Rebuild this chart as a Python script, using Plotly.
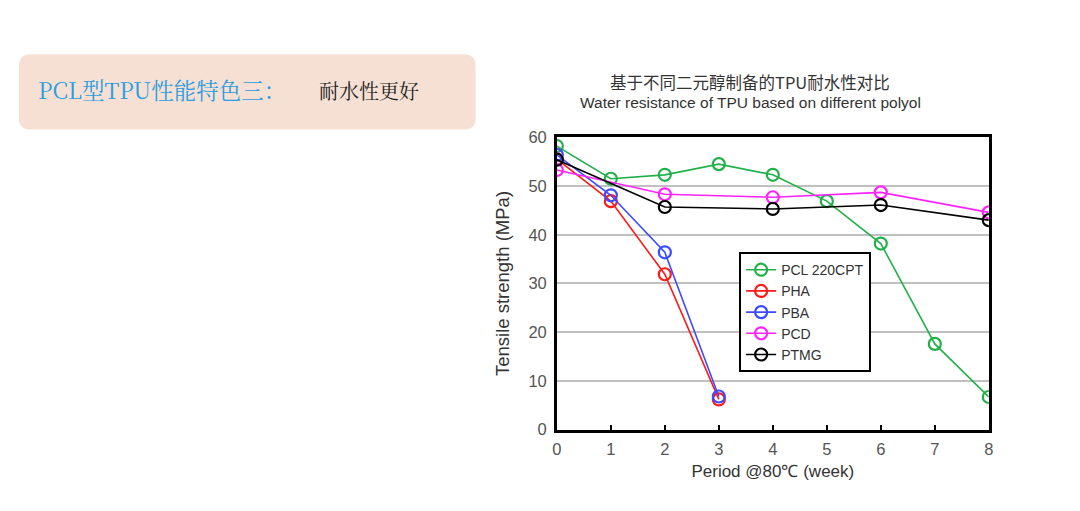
import plotly.graph_objects as go

W, H = 1080, 511

# data
series_names = ["PCL 220CPT", "PHA", "PBA", "PCD", "PTMG"]
series_colors = ["#22b04b", "#ff1a1a", "#3b4bff", "#ff22ff", "#000000"]
pcl_x = [0, 1, 2, 3, 4, 5, 6, 7, 8]
pcl_y = [58.2, 51.5, 52.3, 54.5, 52.3, 46.9, 38.2, 17.6, 6.7]
pha_x = [0, 1, 2, 3]
pha_y = [55.5, 46.9, 31.9, 6.2]
pba_x = [0, 1, 2, 3]
pba_y = [56.4, 48.1, 36.4, 6.8]
pcd_x = [0, 2, 4, 6, 8]
pcd_y = [53.3, 48.3, 47.7, 48.7, 44.6]
ptmg_x = [0, 2, 4, 6, 8]
ptmg_y = [55.4, 45.7, 45.3, 46.1, 43.0]
x_ticks = [0, 1, 2, 3, 4, 5, 6, 7, 8]
y_ticks = [0, 10, 20, 30, 40, 50, 60]

all_x = [pcl_x, pha_x, pba_x, pcd_x, ptmg_x]
all_y = [pcl_y, pha_y, pba_y, pcd_y, ptmg_y]


def px(x):
    return x / W


def py(y):
    return 1 - y / H


fig = go.Figure()

for name, color, xs, ys in zip(series_names, series_colors, all_x, all_y):
    fig.add_trace(go.Scatter(
        x=xs, y=ys, name=name, mode="lines+markers",
        line=dict(color=color, width=1.6),
        marker=dict(symbol="circle-open", size=12, color=color, line=dict(width=2.2)),
    ))

# rounded box on the left, built from pixel corners
x0, x1, y0, y1, r = 14, 475, 47, 125, 12
path = (
    f"M {px(x0 + r)},{py(y0)} L {px(x1 - r)},{py(y0)} "
    f"Q {px(x1)},{py(y0)} {px(x1)},{py(y0 + r)} L {px(x1)},{py(y1 - r)} "
    f"Q {px(x1)},{py(y1)} {px(x1 - r)},{py(y1)} L {px(x0 + r)},{py(y1)} "
    f"Q {px(x0)},{py(y1)} {px(x0)},{py(y1 - r)} L {px(x0)},{py(y0 + r)} "
    f"Q {px(x0)},{py(y0)} {px(x0 + r)},{py(y0)} Z"
)
fig.add_shape(type="path", path=path, xref="paper", yref="paper",
              fillcolor="#f6e0d4", line=dict(width=0), layer="below")

serif = "Noto Serif CJK SC, Liberation Serif, Noto Sans CJK SC, serif"
fig.add_annotation(text="PCL型TPU性能特色三：", xref="paper", yref="paper",
                   x=px(31), y=py(83), xanchor="left", yanchor="middle",
                   showarrow=False, font=dict(size=22.5, color="#2a9de2", family=serif))
fig.add_annotation(text="耐水性更好", xref="paper", yref="paper",
                   x=px(315), y=py(84), xanchor="left", yanchor="middle",
                   showarrow=False, font=dict(size=20, color="#222222", family=serif))

fig.add_annotation(text="基于不同二元醇制备的TPU耐水性对比", xref="paper", yref="paper",
                   x=px(752), y=py(76), xanchor="center", yanchor="middle",
                   showarrow=False, font=dict(size=16.5, color="#333333", family="Noto Sans CJK SC"))
fig.add_annotation(text="Water resistance of TPU based on different polyol", xref="paper", yref="paper",
                   x=px(752), y=py(97), xanchor="center", yanchor="middle",
                   showarrow=False, font=dict(size=15.5, color="#333333", family="Liberation Sans, Arial"))

axis_font = dict(size=16.5, color="#555555", family="Liberation Sans, Arial")

fig.update_layout(
    width=W, height=H,
    margin=dict(l=0, r=0, t=0, b=0),
    paper_bgcolor="white", plot_bgcolor="white",
    font=dict(family="Liberation Sans, Arial", color="#333333"),
    xaxis=dict(
        domain=[557 / W, 993 / W], range=[0, 8], tickvals=x_ticks,
        showgrid=False, zeroline=False, showline=True, linecolor="black", linewidth=2.5,
        mirror=True, ticks="inside", ticklen=5, tickwidth=2, tickcolor="black",
        tickfont=axis_font, ticklabelstandoff=3,
        title=dict(text="Period @80℃ (week)", font=dict(size=17, color="#333333"), standoff=8),
    ),
    yaxis=dict(
        domain=[1 - 436 / H, 1 - 133 / H], range=[0, 60], tickvals=y_ticks,
        showgrid=True, gridcolor="#c0c0c0", gridwidth=1.5, zeroline=False,
        showline=True, linecolor="black", linewidth=2.5, mirror=True, ticks="",
        tickfont=axis_font, ticklabelstandoff=4,
        title=dict(text="Tensile strength (MPa)", font=dict(size=18.5, color="#333333"), standoff=14),
    ),
    legend=dict(
        x=741 / W, y=1 - 252 / H, xanchor="left", yanchor="top",
        bgcolor="white", bordercolor="black", borderwidth=2,
        font=dict(size=14, color="#333333", family="Liberation Sans, Arial"),
        tracegroupgap=0, itemwidth=30,
    ),
)

fig.write_html("out.html", config={"displayModeBar": False},
               post_script="document.body.style.margin='0';")
